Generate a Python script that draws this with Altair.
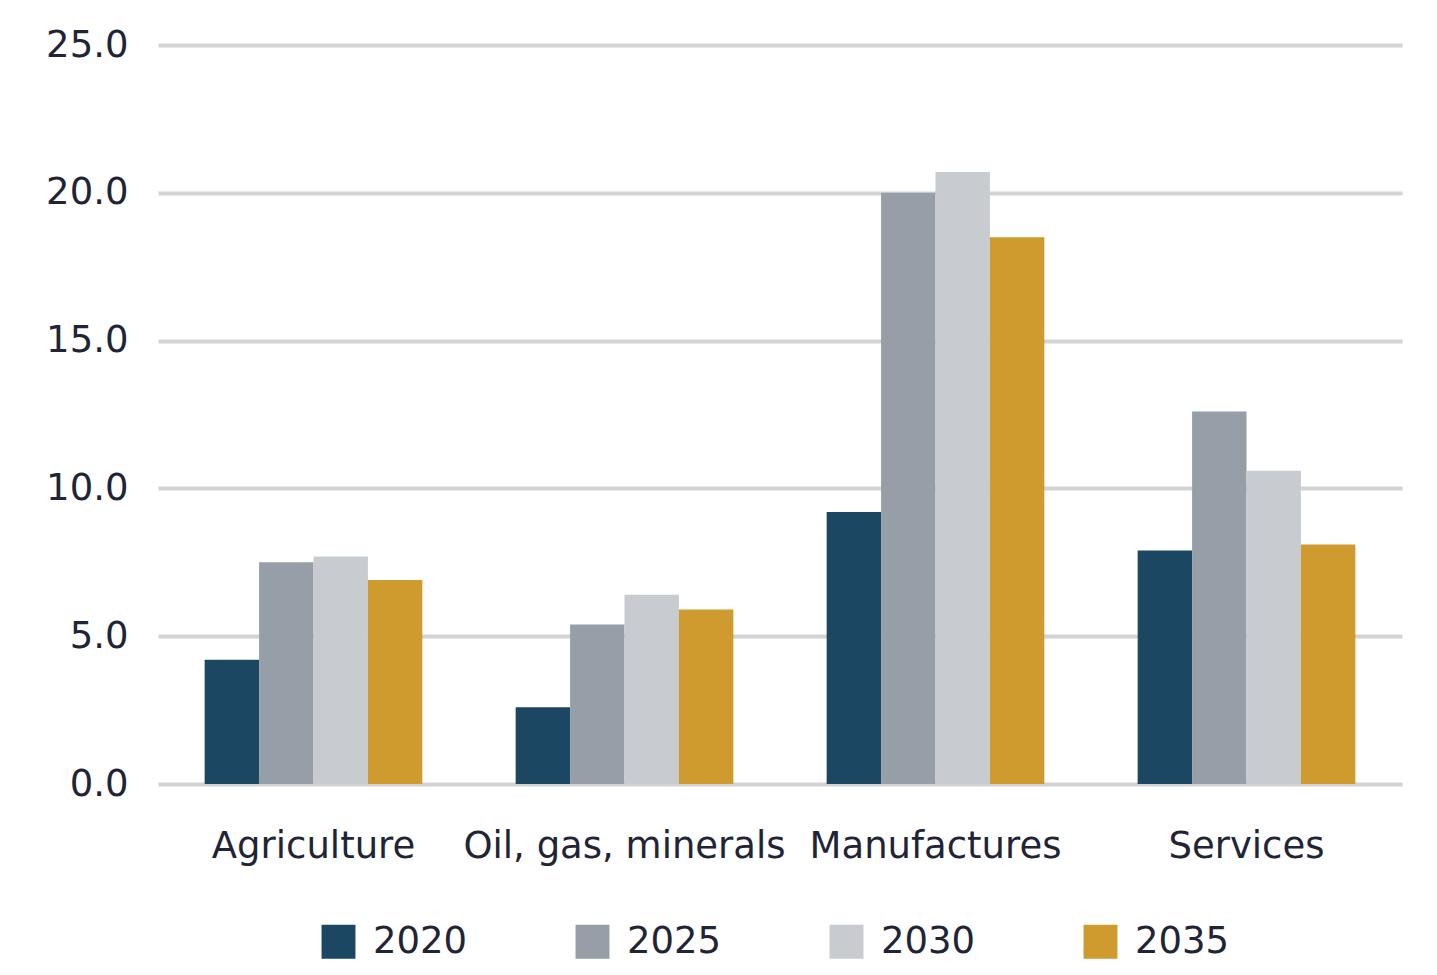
import altair as alt
import pandas as pd

categories = ["Agriculture", "Oil, gas, minerals", "Manufactures", "Services"]
years = ["2020", "2025", "2030", "2035"]
v2020 = [4.2, 2.6, 9.2, 7.9]
v2025 = [7.5, 5.4, 20.0, 12.6]
v2030 = [7.7, 6.4, 20.7, 10.6]
v2035 = [6.9, 5.9, 18.5, 8.1]
colors = ["#1c4763", "#969ea7", "#c8cbd0", "#cf9a2e"]
y_ticks = [0, 5, 10, 15, 20, 25]

rows = []
for yr, vals in zip(years, [v2020, v2025, v2030, v2035]):
    for c, v in zip(categories, vals):
        rows.append({"category": c, "year": yr, "value": v})
df = pd.DataFrame(rows)

FONT = "DejaVu Sans"
TXT = "#1f2536"

chart = alt.Chart(df).mark_bar().encode(
    x=alt.X("category:N", sort=categories,
            scale=alt.Scale(paddingInner=0.3, paddingOuter=0.15),
            axis=alt.Axis(title=None, labelAngle=0, labelFont=FONT, labelFontSize=37,
                          labelColor=TXT, labelPadding=44, domain=False, ticks=False,
                          grid=False, labelLimit=400,
                          labelExpr="datum.label == 'Oil, gas, minerals' ? datum.label + '\u00a0\u00a0' : datum.label")),
    xOffset=alt.XOffset("year:N", sort=years, scale=alt.Scale(paddingInner=0, paddingOuter=0)),
    y=alt.Y("value:Q", scale=alt.Scale(domain=[0, 25], nice=False),
            axis=alt.Axis(title=None, values=y_ticks, format=".1f", labelFont=FONT,
                          labelFontSize=37, labelColor=TXT, labelPadding=30,
                          domain=False, ticks=False, grid=True, gridColor="#d3d3d5",
                          gridWidth=4)),
    color=alt.Color("year:N", sort=years,
                    scale=alt.Scale(domain=years, range=colors),
                    legend=alt.Legend(title=None, orient="none", direction="horizontal",
                                      legendX=162, legendY=878,
                                      symbolType="square", symbolSize=1150,
                                      symbolStrokeWidth=0, labelFont=FONT,
                                      labelFontSize=37, labelColor=TXT,
                                      labelOffset=16, columnPadding=106)),
).properties(
    width=1244, height=739,
    autosize=alt.AutoSizeParams(type="none"),
    padding={"left": 158, "top": 45, "right": 35, "bottom": 191},
    background="white",
).configure_view(stroke=None)

chart.save("out.html", embed_options={"renderer": "svg", "actions": False})
